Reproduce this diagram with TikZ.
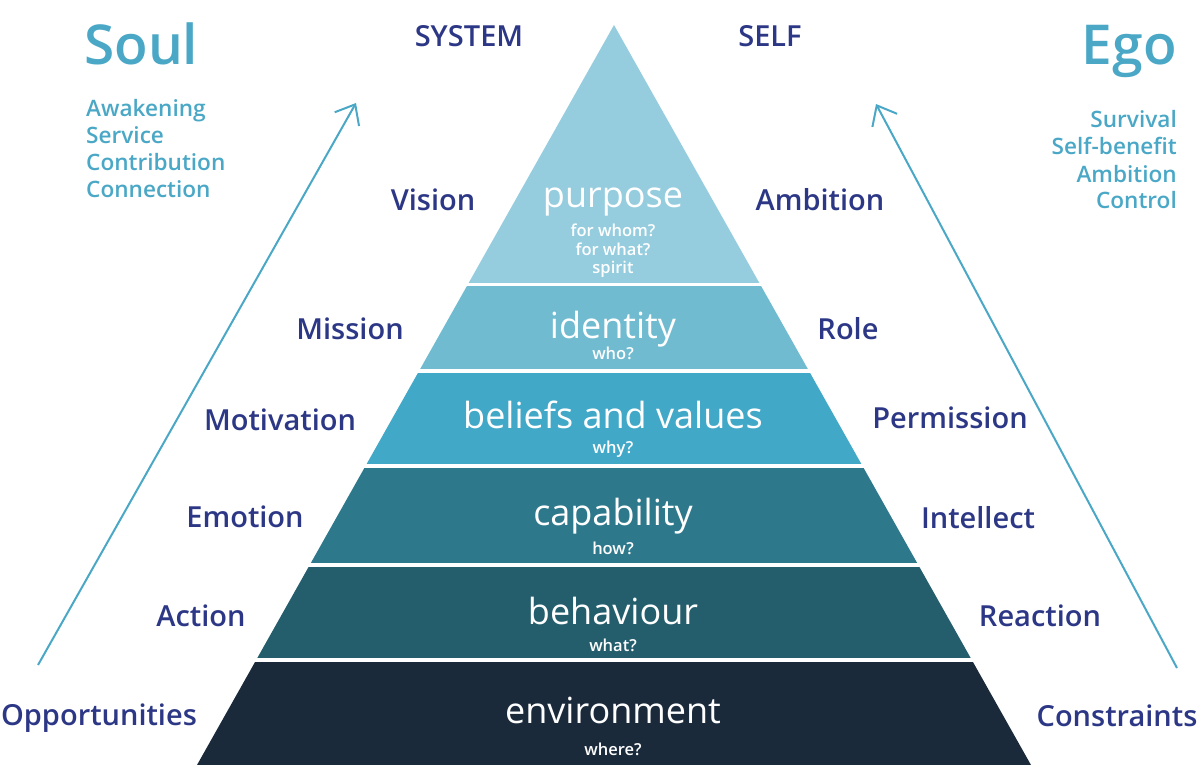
\documentclass[tikz,border=0pt]{standalone}
\usepackage{fontspec}
\setmainfont{Open Sans}
\newfontfamily\sbf{Open Sans Semibold}
\usetikzlibrary{arrows.meta}
\definecolor{navy}{HTML}{2C3785}
\definecolor{teal}{HTML}{4AA8C6}
\definecolor{cA}{HTML}{95CDDF}
\definecolor{cB}{HTML}{70BBD0}
\definecolor{cC}{HTML}{42A8C8}
\definecolor{cD}{HTML}{2E788C}
\definecolor{cE}{HTML}{245E6D}
\definecolor{cF}{HTML}{1B2A3B}
\tikzset{
  side/.style={text=navy, font=\sbf\fontsize{29}{33}\selectfont, inner sep=0pt, anchor=base},
  big/.style={text=teal, font=\sbf\fontsize{55}{60}\selectfont, inner sep=0pt},
  lst/.style={text=teal, font=\sbf\fontsize{22.6}{27}\selectfont, inner sep=0pt},
  ttl/.style={text=white, font=\fontsize{36}{40}\selectfont, inner sep=0pt, anchor=base},
  sub/.style={text=white, font=\sbf\fontsize{16.5}{19}\selectfont, inner sep=0pt, anchor=base},
  arr/.style={draw=teal, line width=2pt, -{Straight Barb[length=17pt,width=28pt,line width=2pt]}}
}
\begin{document}
\begin{tikzpicture}[x=1pt,y=-1pt]
\useasboundingbox (0,0) rectangle (1200,770);
% pyramid
\begin{scope}
\clip (614,25) -- (197,765) -- (1031,765) -- cycle;
\fill[cA] (0,0) rectangle (1200,283);
\fill[cB] (0,286) rectangle (1200,369);
\fill[cC] (0,373) rectangle (1200,464);
\fill[cD] (0,468) rectangle (1200,563);
\fill[cE] (0,567) rectangle (1200,658);
\fill[cF] (0,662) rectangle (1200,765);
\end{scope}
% layer titles
\node[ttl] (purpose) at (613,208) {purpose};
\node[sub] (purposeq1) at (613,237) {for whom?};
\node[sub] (purposeq2) at (613,256) {for what?};
\node[sub] (purposeq3) at (613,274) {spirit};
\node[ttl] (identity) at (613,338) {identity};
\node[sub] (identityq) at (613,359) {who?};
\node[ttl] (beliefs) at (613,428) {beliefs and values};
\node[sub] (beliefsq) at (613,453) {why?};
\node[ttl] (capability) at (613,525) {capability};
\node[sub] (capabilityq) at (613,554) {how?};
\node[ttl] (behaviour) at (613,624) {behaviour};
\node[sub] (behaviourq) at (613,651) {what?};
\node[ttl] (environment) at (613,723) {environment};
\node[sub] (environmentq) at (613,755) {where?};
% side labels
\node[side] (system) at (469,46.5) {SYSTEM};
\node[side] (self) at (770,46.5) {SELF};
\node[side] (vision) at (433,211) {Vision};
\node[side] (ambition) at (820,211) {Ambition};
\node[side] (mission) at (350,339) {Mission};
\node[side] (role) at (848,339) {Role};
\node[side] (motivation) at (280,430) {Motivation};
\node[side] (permission) at (950,428) {Permission};
\node[side] (emotion) at (245,527) {Emotion};
\node[side] (intellect) at (978,528) {Intellect};
\node[side] (action) at (201,626) {Action};
\node[side] (reaction) at (1040,626) {Reaction};
\node[side] (opportunities) at (99,725) {Opportunities};
\node[side] (constraints) at (1117,726) {Constraints};
% Soul / Ego
\node[big, anchor=base west] (soul) at (84,65) {Soul};
\node[big, anchor=base east] (ego) at (1177,65) {Ego};
\node[lst, anchor=base west] (l1) at (86,117) {Awakening};
\node[lst, anchor=base west] (l2) at (86,144) {Service};
\node[lst, anchor=base west] (l3) at (86,171) {Contribution};
\node[lst, anchor=base west] (l4) at (86,198) {Connection};
\node[lst, anchor=base east] (r1) at (1177,128) {Survival};
\node[lst, anchor=base east] (r2) at (1177,155) {Self-benefit};
\node[lst, anchor=base east] (r3) at (1177,183) {Ambition};
\node[lst, anchor=base east] (r4) at (1177,209) {Control};
% arrows
\coordinate (la) at (38,665);
\coordinate (lb) at (356,103);
\coordinate (ra) at (1177,668);
\coordinate (rb) at (876,104);
\draw[arr] (la) -- (lb);
\draw[arr] (ra) -- (rb);
\end{tikzpicture}
\end{document}
